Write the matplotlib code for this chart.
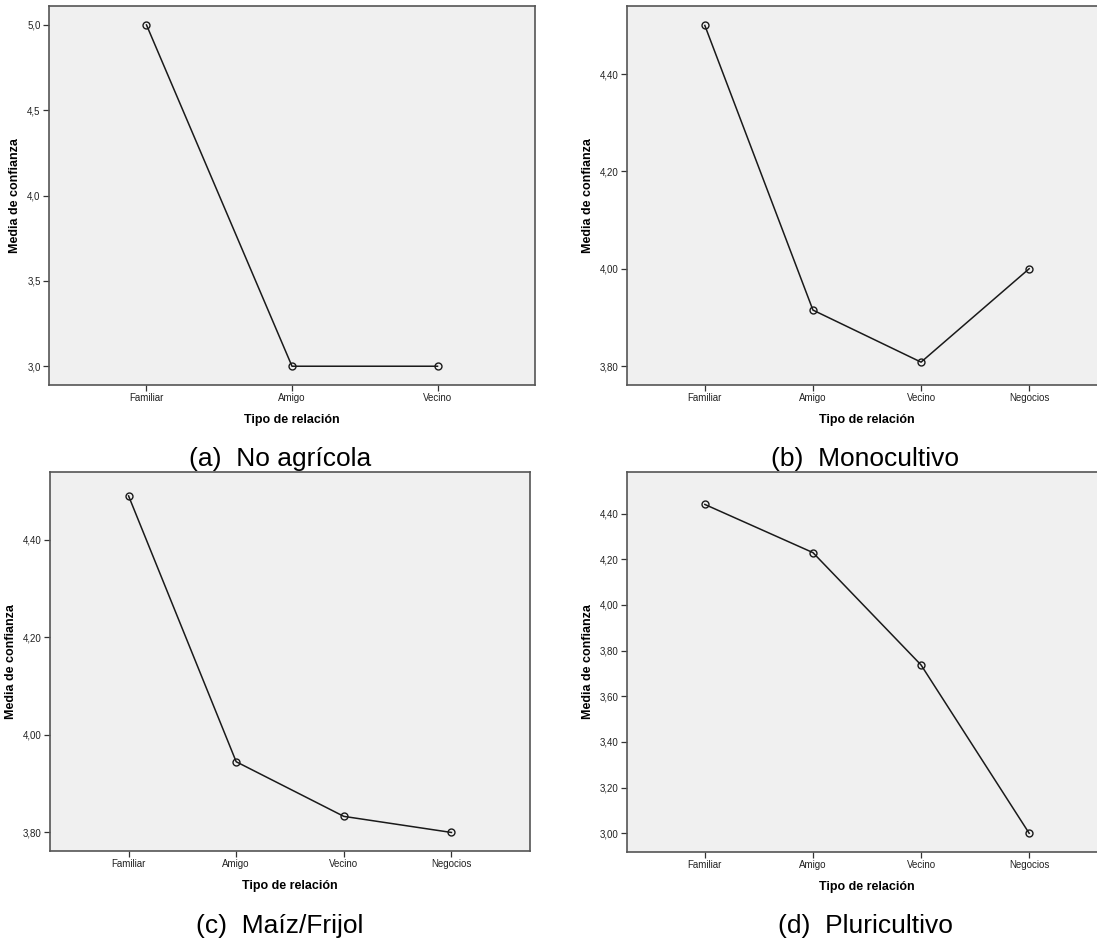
import matplotlib
matplotlib.use('Agg')
from matplotlib import pyplot as plt

plt.rcParams['font.family'] = ['Liberation Sans', 'DejaVu Sans']

W, H = 1097, 939

cats_a = ['Familiar', 'Amigo', 'Vecino']
cats_4 = ['Familiar', 'Amigo', 'Vecino', 'Negocios']

media_a = [5.0, 3.0, 3.0]
media_b = [4.50, 3.915, 3.808, 4.00]
media_c = [4.49, 3.945, 3.833, 3.80]
media_d = [4.44, 4.229, 3.737, 3.00]

yticks_a = [3.0, 3.5, 4.0, 4.5, 5.0]
yticks_b = [3.80, 4.00, 4.20, 4.40]
yticks_c = [3.80, 4.00, 4.20, 4.40]
yticks_d = [3.00, 3.20, 3.40, 3.60, 3.80, 4.00, 4.20, 4.40]

captions = ['(a)  No agrícola', '(b)  Monocultivo', '(c)  Maíz/Frijol', '(d)  Pluricultivo']


def px_axes(fig, left, top, right, bottom):
    # pixel box -> figure fraction
    return fig.add_axes([left / W, 1 - bottom / H, (right - left) / W, (bottom - top) / H])


def panel(ax, box, cats, vals, yticks, ylim, xpad, decimals, ylab_x):
    x = list(range(len(cats)))
    ax.plot(x, vals, color='#1a1a1a', lw=1.1, marker='o', ms=5,
            mfc='none', mec='#1a1a1a', mew=1.0)
    ax.set_facecolor('#f0f0f0')
    ax.set_xlim(-xpad, len(cats) - 1 + xpad)
    ax.set_ylim(*ylim)
    ax.set_xticks(x)
    ax.set_xticklabels(cats, fontsize=7, color='#222222')
    ax.set_yticks(yticks)
    ax.set_yticklabels([(('%.' + str(decimals) + 'f') % v).replace('.', ',') for v in yticks],
                       fontsize=7, color='#222222')
    ax.tick_params(axis='both', direction='out', length=4, width=0.9, color='#333333', pad=2)
    for s in ax.spines.values():
        s.set_color('#555555')
        s.set_linewidth(1.2)
    ax.set_xlabel('Tipo de relación', fontsize=9, fontweight='bold', labelpad=8)
    ax.set_ylabel('Media de confianza', fontsize=9, fontweight='bold')
    # ylabel anchor = right edge of the rotated text, in pixels
    left, right = box[0], box[2]
    ax.yaxis.set_label_coords((ylab_x - left) / (right - left), 0.5)


fig = plt.figure(figsize=(W / 100, H / 100), dpi=100)

box1 = (49, 6, 535, 385)
ax1 = px_axes(fig, *box1)
panel(ax1, box1, cats_a, media_a, yticks_a, (2.89, 5.111), 0.67, 1, 21)

box2 = (627, 6, 1107, 385)
ax2 = px_axes(fig, *box2)
panel(ax2, box2, cats_4, media_b, yticks_b, (3.761, 4.54), 0.72, 2, 594)

box3 = (50, 472, 530, 851)
ax3 = px_axes(fig, *box3)
panel(ax3, box3, cats_4, media_c, yticks_c, (3.762, 4.539), 0.73, 2, 17)

box4 = (627, 472, 1107, 852)
ax4 = px_axes(fig, *box4)
panel(ax4, box4, cats_4, media_d, yticks_d, (2.918, 4.582), 0.72, 2, 594)

cap_pos = [(280, 466), (865, 466), (280, 933), (865, 933)]
for (cx, cy), txt in zip(cap_pos, captions):
    fig.text(cx / W, 1 - cy / H, txt, fontsize=19, ha='center', va='baseline')

fig.savefig('out.png', dpi=100)
